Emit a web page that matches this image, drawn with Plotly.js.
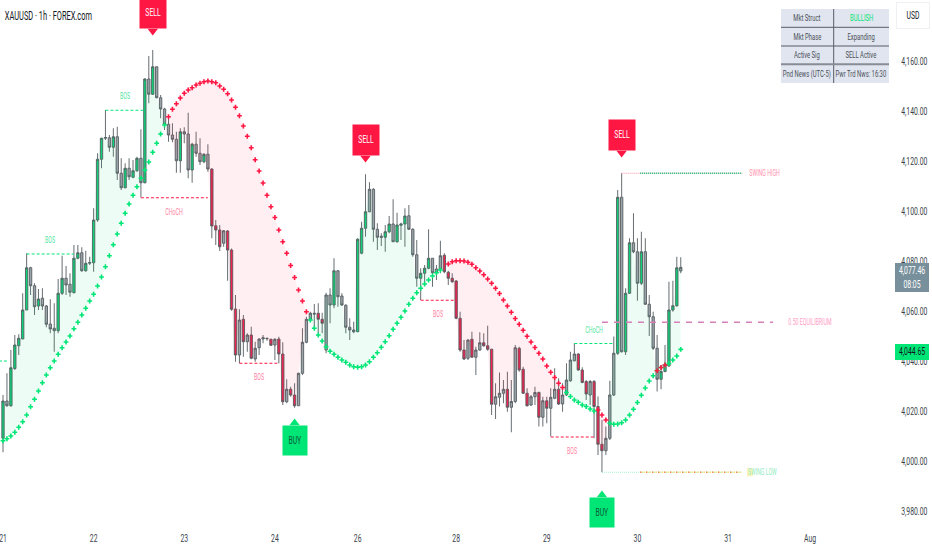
<!DOCTYPE html>
<html>
<head>
<meta charset="utf-8">
<title>XAUUSD</title>
<script src="https://cdn.plot.ly/plotly-3.0.1.min.js"></script>
<style>
  html, body { margin: 0; padding: 0; background: #fff; }
  #chart { width: 932px; height: 550px; }
</style>
</head>
<body>
<div id="chart"></div>
<script>
var font = "Roboto, Liberation Sans, sans-serif";

// one candle per hour
var opens = [
  4009.1,4024.0,4022.1,4037.0,4046.1,4048.8,4060.4,4077.3,4070.1,4062.0,
  4065.1,4062.0,4054.8,4053.1,4052.1,4067.1,4073.1,4070.7,4067.3,4081.1,
  4083.3,4076.1,4079.1,4079.3,4096.4,4120.7,4129.1,4129.3,4125.5,4129.7,
  4115.1,4109.3,4117.1,4113.5,4116.1,4121.1,4111.3,4152.8,4146.7,4157.7,
  4145.3,4140.8,4134.7,4130.4,4128.7,4120.1,4131.7,4130.8,4116.4,4126.7,
  4123.1,4119.7,4122.7,4116.8,4094.1,4092.4,4087.1,4092.0,4084.4,4060.8,
  4042.4,4056.7,4047.7,4050.4,4040.8,4045.3,4048.8,4048.9,4048.7,4046.4,
  4048.8,4042.8,4023.7,4028.7,4026.4,4022.1,4035.1,4047.5,4056.7,4059.1,
  4059.1,4056.7,4044.4,4066.4,4062.4,4076.1,4066.0,4062.3,4053.5,4052.4,
  4051.7,4083.1,4093.1,4099.7,4108.7,4092.7,4089.9,4089.5,4091.7,4094.8,
  4087.7,4094.3,4094.8,4098.1,4092.7,4082.5,4073.1,4075.1,4077.1,4081.1,
  4076.8,4076.8,4082.3,4075.5,4073.1,4072.0,4057.1,4044.4,4041.1,4048.7,
  4041.5,4044.4,4047.3,4046.1,4044.7,4022.7,4025.5,4027.1,4028.7,4021.5,
  4023.8,4045.1,4036.7,4027.1,4022.4,4025.7,4027.4,4017.5,4024.1,4021.1,
  4025.1,4028.7,4022.8,4026.4,4032.1,4040.1,4042.8,4036.4,4031.8,4026.4,
  4031.8,4021.8,4006.7,4004.1,4009.1,4026.4,4043.1,4105.5,4043.7,4067.1,
  4087.3,4083.7,4071.1,4083.7,4062.7,4057.7,4045.1,4032.7,4035.8,4038.0,
  4060.4,4062.1,4076.0
];
var highs = [
  4026.4,4035.1,4044.4,4050.4,4050.7,4067.1,4083.1,4077.7,4071.1,4068.8,
  4069.1,4062.4,4064.7,4063.1,4072.8,4082.1,4078.0,4075.1,4086.4,4086.4,
  4085.5,4084.1,4081.7,4101.1,4123.1,4129.3,4140.4,4130.4,4133.1,4133.7,
  4121.1,4119.1,4121.1,4120.4,4121.7,4132.7,4153.1,4162.0,4164.4,4157.7,
  4146.4,4141.3,4138.4,4135.1,4131.7,4133.1,4133.5,4139.3,4127.3,4131.7,
  4129.1,4123.1,4126.7,4117.1,4096.4,4094.4,4092.4,4092.4,4085.0,4066.4,
  4060.7,4058.4,4051.1,4053.7,4047.7,4049.1,4050.4,4049.5,4048.9,4049.1,
  4049.7,4047.5,4032.7,4029.7,4031.1,4035.3,4053.1,4057.7,4059.7,4062.8,
  4063.1,4059.3,4067.3,4069.1,4081.1,4076.4,4067.1,4062.7,4057.1,4055.7,
  4089.1,4095.7,4114.7,4111.5,4109.1,4095.1,4091.1,4094.4,4098.0,4104.7,
  4099.3,4095.3,4101.1,4102.4,4093.1,4088.4,4077.1,4078.4,4092.7,4081.1,
  4078.4,4088.1,4083.1,4076.1,4075.1,4072.4,4059.7,4048.4,4048.7,4051.7,
  4045.7,4051.5,4051.1,4054.1,4044.9,4031.1,4035.4,4032.4,4035.7,4032.4,
  4046.4,4045.7,4037.7,4029.1,4026.4,4029.7,4027.8,4025.7,4025.7,4029.1,
  4037.1,4033.1,4031.1,4039.1,4043.7,4047.1,4043.1,4037.5,4032.4,4032.4,
  4032.4,4025.8,4016.4,4013.8,4032.1,4049.8,4108.4,4115.1,4069.1,4089.1,
  4099.1,4089.1,4091.7,4089.1,4066.4,4059.7,4050.4,4037.7,4046.4,4071.7,
  4072.1,4081.7,4081.5
];
var lows = [
  4003.5,4021.7,4021.7,4036.4,4042.4,4048.8,4060.4,4066.4,4058.4,4060.4,
  4060.4,4053.5,4051.1,4043.7,4051.1,4066.4,4066.4,4065.7,4067.1,4080.7,
  4075.7,4075.7,4078.4,4075.7,4095.7,4117.1,4128.4,4123.7,4121.7,4112.4,
  4108.4,4109.1,4112.4,4113.1,4115.7,4105.4,4111.1,4143.1,4146.4,4145.1,
  4137.1,4132.4,4127.7,4127.5,4115.3,4115.3,4127.1,4113.1,4111.3,4121.7,
  4118.4,4119.1,4115.7,4089.1,4086.4,4084.0,4085.7,4072.1,4060.1,4039.7,
  4039.1,4041.7,4043.7,4040.7,4039.7,4042.4,4047.1,4048.1,4046.0,4040.4,
  4039.1,4022.4,4023.1,4025.7,4021.3,4022.1,4034.4,4047.1,4055.7,4053.1,
  4051.1,4051.1,4043.1,4055.1,4061.1,4061.7,4062.0,4051.1,4048.4,4051.1,
  4051.6,4082.7,4089.7,4099.5,4087.7,4084.4,4086.0,4083.7,4091.1,4087.7,
  4087.3,4088.4,4085.7,4092.4,4081.7,4069.7,4064.4,4071.1,4076.7,4069.7,
  4072.4,4075.1,4075.1,4070.4,4071.3,4056.7,4043.7,4040.4,4040.4,4041.5,
  4034.4,4044.1,4045.7,4044.1,4018.4,4016.8,4021.8,4023.1,4019.7,4011.5,
  4023.1,4035.7,4026.8,4021.8,4022.0,4022.4,4013.8,4013.8,4015.1,4009.8,
  4024.7,4022.4,4019.7,4026.0,4031.7,4039.8,4036.1,4031.1,4024.4,4022.4,
  4009.1,4002.4,3995.5,4002.4,4008.4,4026.0,4042.4,4043.4,4042.4,4066.8,
  4083.1,4064.1,4070.4,4062.4,4050.0,4044.4,4027.8,4028.7,4035.5,4037.7,
  4059.7,4061.7,4075.1
];
var closes = [
  4024.0,4022.1,4037.3,4046.4,4049.1,4060.4,4077.3,4070.1,4061.7,4064.8,
  4062.0,4054.7,4052.8,4052.1,4067.1,4073.1,4070.4,4067.5,4081.1,4083.3,
  4076.1,4079.1,4079.4,4096.4,4120.7,4129.1,4129.4,4125.5,4129.7,4115.1,
  4109.3,4117.1,4113.7,4116.1,4121.1,4111.3,4152.8,4146.7,4157.7,4145.3,
  4140.8,4134.7,4130.4,4128.7,4120.1,4131.7,4130.8,4116.4,4126.7,4123.1,
  4119.7,4122.7,4116.8,4094.0,4092.4,4085.7,4092.1,4084.4,4060.7,4042.4,
  4056.4,4047.7,4050.4,4041.1,4045.1,4048.8,4049.3,4049.0,4046.3,4048.7,
  4042.8,4023.7,4028.7,4026.4,4022.1,4035.1,4047.5,4056.7,4059.1,4058.8,
  4056.7,4055.1,4066.4,4062.4,4076.1,4065.7,4062.4,4053.5,4052.4,4051.7,
  4088.7,4093.1,4099.7,4108.7,4092.7,4089.5,4089.5,4091.7,4094.8,4087.7,
  4094.4,4094.8,4098.0,4092.7,4082.5,4073.1,4075.1,4077.1,4081.1,4075.3,
  4075.3,4082.1,4075.7,4073.1,4071.7,4057.1,4044.4,4040.8,4048.4,4041.5,
  4044.4,4047.3,4046.1,4044.7,4022.7,4025.7,4027.1,4028.7,4021.5,4023.8,
  4045.3,4036.4,4027.1,4022.1,4025.7,4027.4,4017.5,4024.1,4021.1,4025.5,
  4028.7,4022.8,4026.4,4032.4,4040.4,4042.8,4036.4,4031.4,4026.8,4031.8,
  4021.8,4006.7,4004.1,4009.1,4026.4,4043.1,4105.5,4043.7,4067.1,4087.3,
  4083.7,4071.1,4083.7,4062.7,4057.7,4045.1,4032.7,4035.8,4038.4,4060.4,
  4062.1,4077.3,4077.46
];
// g green, x grey, r red
var tones =
  "gxgggggxxg" + "xxxxggxxgg" + "xgxgggxxgx" + "xgxggxgxgx" + "xxxxxgxxgx" +
  "xgxrrrxrrr" + "xrxrxxxxrx" + "rrxrrxxxxx" + "rrxxgxxxxx" + "gggxxxxggx" +
  "gggxxxgggx" + "xxrrrrrrxr" + "xxrrrxxxrx" + "xrrrxxrxrx" + "xrxxxxrrrx" +
  "rrrxxxgxgg" + "xxgxxxxggg" + "ggx";

// trailing stop dots, each run starts at the candle given
var bullTrailA = [4008.1,4008.9,4010.0,4011.5,4013.5,4015.7,4018.4,4021.7,4024.7,4028.0,
  4031.3,4034.4,4037.3,4040.0,4042.7,4045.3,4047.6,4050.0,4052.9,4055.5,
  4058.4,4061.1,4064.0,4066.7,4070.0,4073.6,4077.7,4082.1,4086.5,4090.8,
  4095.1,4099.1,4102.8,4106.3,4109.7,4113.1,4116.4,4119.6,4123.5,4127.1,
  4130.8,4134.4];
var bearTrailA = [4137.7,4140.7,4142.9,4145.2,4147.1,4148.4,4149.3,4150.4,4151.1,4151.7,
  4152.0,4151.7,4151.3,4150.0,4148.7,4146.9,4144.4,4141.5,4138.1,4134.0,
  4129.9,4125.3,4120.5,4116.0,4111.2,4106.3,4101.7,4097.4,4092.4,4087.7,
  4083.1,4078.2,4073.4,4068.4,4064.0,4059.7];
var bullTrailB = [4056.4,4053.1,4050.4,4048.0,4045.7,4043.9,4042.7,4041.5,4040.4,4039.5,
  4038.4,4037.7,4037.5,4037.7,4038.4,4039.7,4041.5,4043.3,4045.5,4047.7,
  4050.1,4052.7,4055.1,4057.5,4060.0,4062.7,4065.1,4067.3,4069.1,4070.8,
  4072.4,4074.0,4075.3,4076.4];
var bearTrailB = [4078.8,4079.7,4080.1,4080.1,4080.0,4079.5,4078.7,4077.3,4076.0,4074.5,
  4072.8,4071.1,4069.1,4067.0,4064.4,4062.0,4059.5,4057.0,4054.7,4052.3,
  4049.9,4047.6,4045.4,4043.1,4040.8,4038.0,4035.5,4033.4,4031.1,4029.4];
var bullTrailC = [4027.4,4025.8,4024.4,4023.5,4022.4,4021.8,4020.8,4020.0];
var bearTrailC = [4020.4,4018.4,4016.4];
var bullTrailD = [4015.1,4014.7,4014.8,4015.3,4016.4,4018.4,4020.7,4023.4,4026.3,4029.2,
  4032.0,4034.1,4036.1,4037.4,4038.4,4039.0,4040.4,4042.0,4044.65];
var bearTrailD = [4036.1,4037.4,4038.4];

// structure breaks: first candle, last candle, price, text
var levelFrom =  [-1, 6, 26, 35, 60, 106, 145, 139];
var levelTo =    [1, 18, 36, 52, 70, 115, 155, 150];
var levelPrice = [4040, 4082.8, 4140.3, 4105.3, 4039.1, 4064.3, 4047, 4009.6];
var levelText =  ["", "BOS", "BOS", "CHoCH", "BOS", "BOS", "CHoCH", "BOS"];
var levelBull =  [true, true, true, false, false, false, true, false];

// signals: candle and the price the pointer reaches
var sellAt = [38, 92, 157];
var sellTip = [4170, 4119.2, 4121.2];
var buyAt = [74, 152];
var buyTip = [4017.2, 3988.4];

var swingHigh = 4115.1;
var swingLow = 3995.5;
var equilibrium = 4055.5;
var lastPrice = 4077.46;
var trailPrice = 4044.65;

var dayTicks = [0, 23, 46, 69, 90, 115, 138, 161, 184, 204.8];
var dayLabels = ["21", "22", "23", "24", "26", "28", "29", "30", "31", "Aug"];
var priceTicks = [3980, 4000, 4020, 4040, 4060, 4080, 4100, 4120, 4140, 4160];

var tableLeft = ["Mkt Struct", "Mkt Phase", "Active Sig", "Pnd News (UTC-5)"];
var tableRight = ["BULLISH", "Expanding", "SELL Active", "Pwr Trd Nws: 16:30"];

var GREEN = "#00e676", RED = "#ff1744";
var traces = [];

function candles(tone, fill) {
  var x = [], o = [], h = [], l = [], c = [];
  for (var i = 0; i < opens.length; i++) {
    if (tones[i] != tone) continue;
    x.push(i); o.push(opens[i]); h.push(highs[i]); l.push(lows[i]); c.push(closes[i]);
  }
  var look = { line: { color: "#565c61", width: 0.9 }, fillcolor: fill };
  traces.push({
    type: "candlestick", x: x, open: o, high: h, low: l, close: c,
    increasing: look, decreasing: look, whiskerwidth: 0,
    hoverinfo: "skip", showlegend: false
  });
}
candles("x", "#9aa4a9");
candles("g", "#10cf78");
candles("r", "#ee2450");

// close first, then the dots fill back to it
function trail(values, start, bull, shade) {
  var x = values.map(function(v, k) { return start + k; });
  if (shade) {
    traces.push({
      type: "scatter", mode: "lines", x: x, y: closes.slice(start, start + values.length),
      line: { width: 0 }, hoverinfo: "skip", showlegend: false
    });
  }
  traces.push({
    type: "scatter", mode: "markers", x: x, y: values,
    fill: shade ? "tonexty" : "none",
    fillcolor: bull ? "rgba(0,230,118,0.07)" : "rgba(255,23,68,0.07)",
    marker: { symbol: "cross", size: 4, color: bull ? GREEN : RED, line: { width: 0 } },
    hoverinfo: "skip", showlegend: false
  });
}
trail(bullTrailA, 0, true, true);
trail(bearTrailA, 42, false, true);
trail(bullTrailB, 78, true, true);
trail(bearTrailB, 113, false, true);
trail(bullTrailC, 143, true, true);
trail(bearTrailC, 151, false, true);
trail(bullTrailD, 154, true, true);
trail(bearTrailD, 166, false, false);

// badge pointers, the box itself is an annotation
traces.push({
  type: "scatter", mode: "markers", x: sellAt,
  y: sellTip.map(function(p) { return p + 2; }),
  marker: { symbol: "triangle-down", size: 9, color: RED },
  hoverinfo: "skip", showlegend: false
});
traces.push({
  type: "scatter", mode: "markers", x: buyAt,
  y: buyTip.map(function(p) { return p - 2; }),
  marker: { symbol: "triangle-up", size: 9, color: GREEN },
  hoverinfo: "skip", showlegend: false
});

var shapes = [];
var notes = [];

// pixel helpers for the panel and the price tags
function px(x) { return x / 890; }
function py(y) { return 1 - y / 530; }

function note(text, i, price, color, size) {
  notes.push({
    x: i, y: price, xref: "x", yref: "y", text: text, showarrow: false,
    font: { family: font, size: size || 8, color: color }
  });
}

// paper text, centred on the point
function paperNote(o) {
  o.xref = "paper"; o.yref = "paper"; o.xanchor = "center"; o.yanchor = "middle"; o.showarrow = false;
  notes.push(o);
}

for (var n = 0; n < levelPrice.length; n++) {
  shapes.push({
    type: "line", xref: "x", yref: "y",
    x0: levelFrom[n], x1: levelTo[n], y0: levelPrice[n], y1: levelPrice[n],
    line: { color: levelBull[n] ? GREEN : RED, width: 1, dash: "3px,2px" }
  });
  if (levelText[n]) {
    notes.push({
      x: (levelFrom[n] + levelTo[n]) / 2, y: levelPrice[n], xref: "x", yref: "y", text: levelText[n],
      showarrow: false, yshift: levelBull[n] ? 14 : -14,
      font: { family: font, size: 8.5, color: levelBull[n] ? "#4fe6a0" : "#ff7f9f" }
    });
  }
}

shapes.push({ type: "line", xref: "x", yref: "y", x0: 157, x1: 187.6, y0: swingHigh, y1: swingHigh,
  line: { color: "#ff8fab", width: 1, dash: "1px,1px" } });
shapes.push({ type: "line", xref: "x", yref: "y", x0: 161.7, x1: 187.6, y0: swingHigh, y1: swingHigh,
  line: { color: "#14c47c", width: 1.5, dash: "1px,1px" } });
shapes.push({ type: "line", xref: "x", yref: "y", x0: 152, x1: 187.6, y0: swingLow, y1: swingLow,
  line: { color: "#9ff0c8", width: 1, dash: "1px,1px" } });
shapes.push({ type: "line", xref: "x", yref: "y", x0: 161.7, x1: 187.6, y0: swingLow, y1: swingLow,
  line: { color: "#f6e48a", width: 1.5, dash: "2px,1px" } });
shapes.push({ type: "line", xref: "x", yref: "y", x0: 161.7, x1: 187.6, y0: swingLow, y1: swingLow,
  line: { color: "#f0705f", width: 1.5, dash: "1px,5px" } });
shapes.push({ type: "line", xref: "x", yref: "y", x0: 152, x1: 195.4, y0: equilibrium, y1: equilibrium,
  line: { color: "#d77fb8", width: 1.5, dash: "6px,6px" } });
// pale mark behind the start of the swing low text
shapes.push({ type: "rect", xref: "x", yref: "y", x0: 188.8, x1: 190.3, y0: swingLow - 1.6, y1: swingLow + 1.6,
  fillcolor: "rgba(255,235,120,0.55)", line: { width: 0 } });

note("SWING HIGH", 193.2, swingHigh, "#ff8fab", 8.5);
note("SWING LOW", 192.8, swingLow, "#8fecc0", 8.5);
note("0.50 EQUILIBRIUM", 204.8, equilibrium, "#ff9cc4", 8.5);

sellAt.forEach(function(i, k) {
  notes.push({
    x: i, y: sellTip[k] + 2, xref: "x", yref: "y", text: "SELL", showarrow: false,
    yanchor: "bottom", yshift: 2, width: 24, height: 28, bgcolor: RED,
    font: { family: font, size: 11, color: "#ffffff" }
  });
});
buyAt.forEach(function(i, k) {
  notes.push({
    x: i, y: buyTip[k] - 2, xref: "x", yref: "y", text: "BUY", showarrow: false,
    yanchor: "top", yshift: -2, width: 22, height: 27, bgcolor: GREEN,
    font: { family: font, size: 11, color: "#0d5a3a" }
  });
});

// status panel, top right
shapes.push({ type: "rect", xref: "paper", yref: "paper", x0: px(781), x1: px(889), y0: py(83), y1: py(9),
  fillcolor: "#e0e5ef", line: { width: 0 } });
shapes.push({ type: "line", xref: "paper", yref: "paper", x0: px(833.7), x1: px(833.7), y0: py(83), y1: py(9),
  line: { color: "#565c68", width: 1 } });
[27.3, 46, 64.3].forEach(function(y, k) {
  shapes.push({ type: "line", xref: "paper", yref: "paper", x0: px(781), x1: px(889), y0: py(y), y1: py(y),
    line: { color: k == 2 ? "#878c95" : "#565c68", width: k == 2 ? 2 : 1 } });
});
[18, 36.7, 55, 73.5].forEach(function(y, k) {
  paperNote({ x: px(807.3), y: py(y), text: tableLeft[k],
    font: { family: font, size: 9.5, color: "#4a4f59" } });
  paperNote({ x: px(861.3), y: py(y), text: tableRight[k],
    font: { family: font, size: 9.5, color: k == 0 ? GREEN : "#4a4f59" } });
});

paperNote({ x: px(48), y: py(16), text: "XAUUSD \u00b7 1h \u00b7 FOREX.com",
  font: { family: font, size: 12, color: "#131722" } });
paperNote({ x: px(913), y: py(16), text: "USD", width: 30, height: 23, bordercolor: "#eef0f4", borderwidth: 1,
  font: { family: font, size: 11, color: "#131722" } });

// price tags over the axis
function tag(text, y, h, fill, color) {
  paperNote({ x: px(912), y: py(y), text: text,
    width: 34, height: h, bgcolor: fill, borderpad: 0, borderwidth: 0,
    font: { family: font, size: 11, color: color } });
}
var money = { minimumFractionDigits: 2 };
tag(lastPrice.toLocaleString("en-US", money), 270, 14.5, "#78909c", "#ffffff");
tag("08:05", 284, 14.5, "#78909c", "#ffffff");
tag(trailPrice.toLocaleString("en-US", money), 352, 15.5, GREEN, "#131722");

var layout = {
  width: 932,
  height: 550,
  margin: { l: 0, r: 42, t: 0, b: 20, pad: 0 },
  paper_bgcolor: "#ffffff",
  plot_bgcolor: "#ffffff",
  showlegend: false,
  boxmode: "overlay",
  boxgap: 0.15,
  xaxis: {
    range: [-0.761, 225.1],
    tickmode: "array", tickvals: dayTicks, ticktext: dayLabels,
    showgrid: false, zeroline: false, showline: false, ticks: "",
    ticklabeloverflow: "allow",
    rangeslider: { visible: false },
    tickfont: { family: font, size: 11, color: "#3a3f4a" }
  },
  yaxis: {
    side: "right",
    range: [3972.4, 4184.4],
    tickmode: "array", tickvals: priceTicks,
    tickformat: ",.2f",
    showgrid: false, zeroline: false, showline: false,
    ticks: "outside", ticklen: 8, tickcolor: "rgba(0,0,0,0)",
    tickfont: { family: font, size: 11, color: "#3a3f4a" },
    automargin: false
  },
  shapes: shapes,
  annotations: notes
};

// the reference type is very narrow and no narrow face is installed, so scale the text in x
function squeeze() {
  var k = 0.62;
  document.querySelectorAll(".xtick text, .ytick text, .annotation-text").forEach(function(el) {
    var ax = parseFloat(el.getAttribute("x")) || 0;
    var old = el.getAttribute("transform") || "";
    el.setAttribute("transform", old + " translate(" + ax + ",0) scale(" + k + ",1) translate(" + (-ax) + ",0)");
  });
  // the clip boxes were sized for the wide text and cut the tags
  document.querySelectorAll(".annotation [clip-path]").forEach(function(el) {
    el.removeAttribute("clip-path");
  });
}

Plotly.newPlot("chart", traces, layout, { displayModeBar: false, staticPlot: true }).then(squeeze);
</script>
</body>
</html>
